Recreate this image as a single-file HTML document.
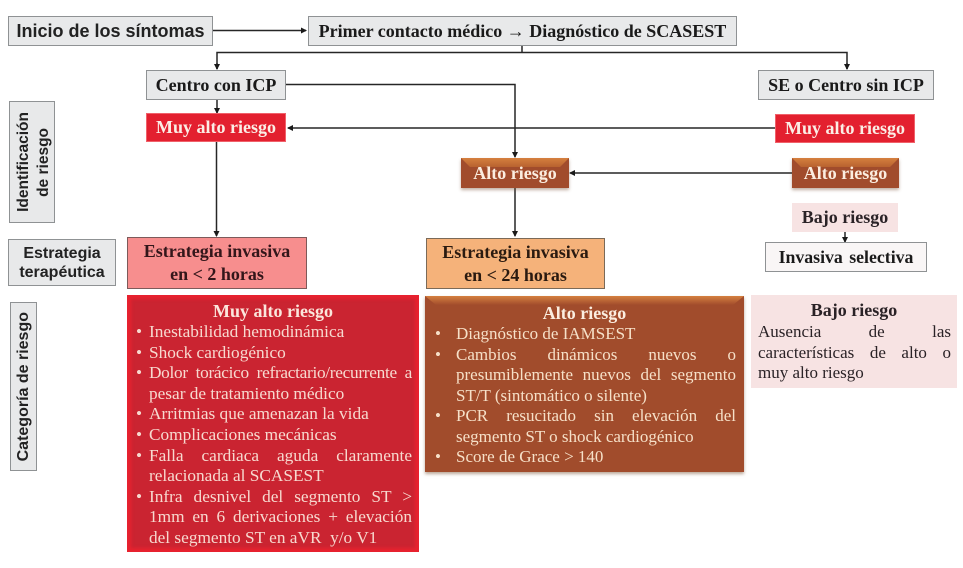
<!DOCTYPE html>
<html lang="es"><head><meta charset="utf-8"><title>SCASEST</title>
<style>
html,body{margin:0;padding:0;background:#fff}
#p{position:relative;width:963px;height:568px;overflow:hidden;background:#fff;filter:blur(.35px);font-family:"Liberation Serif",serif}
.b{position:absolute;box-sizing:border-box;display:flex;align-items:center;justify-content:center;text-align:center;font-weight:bold;white-space:nowrap}
.g{background:#e8e9ea;border:1.5px solid #8f9294;color:#1a1a1a}
.s{font-family:"Liberation Sans",sans-serif;color:#222}
.r{background:#e3202f;border:1px solid #f0616a;color:#fbeee6;font-size:18px}
.a{background:#a14c2c;color:#fbeee0;font-size:18px;box-shadow:0 2px 3px rgba(120,80,50,.45)}
.a:before{content:"";position:absolute;left:0;top:0;right:0;height:9px;background:linear-gradient(#d5803f,#b8622f);clip-path:polygon(0 0,100% 0,calc(100% - 9px) 100%,9px 100%)}
.a span{position:relative}
.l{position:absolute;font-size:17px;line-height:20px;white-space:nowrap}
.w{font-size:17.3px}
.j{text-align:justify;text-align-last:justify;white-space:normal}
.v{position:absolute;display:flex;align-items:center;justify-content:center;box-sizing:border-box;text-align:center;font-family:"Liberation Sans",sans-serif;font-weight:bold;color:#222;background:#e8e9ea;border:1.5px solid #8f9294;white-space:nowrap}
.v span{display:block;writing-mode:vertical-rl;transform:rotate(180deg)}
svg{position:absolute;left:0;top:0}
.w{color:#f7d9cf}.o{color:#f6e0c8}.k{color:#2a2226}
</style></head><body><div id="p">

<svg width="963" height="568">
<defs><marker id="m" markerWidth="6" markerHeight="6" refX="5" refY="3" orient="auto" markerUnits="userSpaceOnUse"><path d="M0 0L6 3L0 6Z" fill="#1a1a1a"/></marker></defs>
<g fill="none" stroke="#262626" stroke-width="1.5">
<path d="M213 30.5H306" marker-end="url(#m)"/>
<path d="M522 46V52.5" />
<path d="M217 69V52.5H847V69" />
<path d="M217 63V69" marker-end="url(#m)"/>
<path d="M847 63V69" marker-end="url(#m)"/>
<path d="M286 84.5H515V157" marker-end="url(#m)"/>
<path d="M217 100V113" marker-end="url(#m)"/>
<path d="M775 128H288" marker-end="url(#m)"/>
<path d="M792 173H570" marker-end="url(#m)"/>
<path d="M515 188V236" marker-end="url(#m)"/>
<path d="M216.5 142V236" marker-end="url(#m)"/>
<path d="M845 232V242" marker-end="url(#m)"/>
</g></svg>

<div class="b g s" style="left:8px;top:16px;width:205px;height:30px;font-size:18px">Inicio de los síntomas</div>
<div class="b g" style="left:308px;top:16px;width:429px;height:30px;font-size:18px">Primer contacto médico → Diagnóstico de SCASEST</div>
<div class="b g" style="left:146px;top:70px;width:140px;height:30px;font-size:18px">Centro con ICP</div>
<div class="b g" style="left:758px;top:70px;width:176px;height:30px;font-size:18px">SE o Centro sin ICP</div>

<div class="b r" style="left:146px;top:113px;width:140px;height:29px">Muy alto riesgo</div>
<div class="b r" style="left:775px;top:114px;width:140px;height:29px">Muy alto riesgo</div>
<div class="b a" style="left:461px;top:158px;width:108px;height:30px"><span>Alto riesgo</span></div>
<div class="b a" style="left:792px;top:158px;width:107px;height:30px"><span>Alto riesgo</span></div>
<div class="b" style="left:792px;top:203px;width:106px;height:29px;background:#f7e3e3;color:#2a2226;font-size:18px">Bajo riesgo</div>
<div class="b" style="left:765px;top:242px;width:162px;height:30px;background:#f9f6f6;border:1.5px solid #8f9294;color:#1a1a1a;font-size:17.8px;word-spacing:2px">Invasiva selectiva</div>

<div class="v" style="left:9px;top:101px;width:46px;height:122px;font-size:15.5px;line-height:20px;padding-left:3px"><span>Identificación<br>de riesgo</span></div>
<div class="b g s" style="left:8px;top:239px;width:108px;height:47px;font-size:16px;line-height:19px">Estrategia<br>terapéutica</div>
<div class="v" style="left:10px;top:302px;width:27px;height:169px;font-size:16px"><span>Categoría de riesgo</span></div>

<div class="b" style="left:127px;top:237px;width:180px;height:52px;background:#f78e8e;border:1.5px solid #7d5a5a;color:#33161a;font-size:18px;line-height:23px">Estrategia invasiva<br>en &lt; 2 horas</div>
<div class="b" style="left:426px;top:238px;width:179px;height:51px;background:#f5b27a;border:1.5px solid #7b6a58;color:#2a1a10;font-size:18px;line-height:23px">Estrategia invasiva<br>en &lt; 24 horas</div>

<!-- Red panel -->
<div style="position:absolute;left:127px;top:295px;width:292px;height:257px;box-sizing:border-box;background:#ca2431;box-shadow:inset 0 0 3px 4px #e8222f"></div>
<div class="l w" style="left:127px;width:292px;text-align:center;top:301px;font-weight:bold;font-size:18px;color:#fbe6dc">Muy alto riesgo</div>
<div class="l w" style="left:136px;top:321.5px">•</div><div class="l w" style="left:149px;top:321.5px">Inestabilidad hemodinámica</div>
<div class="l w" style="left:136px;top:342.5px">•</div><div class="l w" style="left:149px;top:342.5px">Shock cardiogénico</div>
<div class="l w" style="left:136px;top:362.5px">•</div><div class="l w j" style="left:149px;top:362.5px;width:263px;letter-spacing:-.3px">Dolor torácico refractario/recurrente a</div>
<div class="l w" style="left:149px;top:383.5px">pesar de tratamiento médico</div>
<div class="l w" style="left:136px;top:403.5px">•</div><div class="l w" style="left:149px;top:403.5px">Arritmias que amenazan la vida</div>
<div class="l w" style="left:136px;top:424.5px">•</div><div class="l w" style="left:149px;top:424.5px">Complicaciones mecánicas</div>
<div class="l w" style="left:136px;top:445.5px">•</div><div class="l w j" style="left:149px;top:445.5px;width:263px">Falla cardiaca aguda claramente</div>
<div class="l w" style="left:149px;top:465.5px">relacionada al SCASEST</div>
<div class="l w" style="left:136px;top:486.5px">•</div><div class="l w j" style="left:149px;top:486.5px;width:263px">Infra desnivel del segmento ST &gt;</div>
<div class="l w j" style="left:149px;top:506.5px;width:263px">1mm en 6 derivaciones + elevación</div>
<div class="l w" style="left:149px;top:527.5px">del segmento ST en aVR&nbsp; y/o V1</div>

<!-- Brown panel -->
<div style="position:absolute;left:425px;top:296px;width:319px;height:176px;background:#a14c2c;box-shadow:0 2px 3px rgba(120,80,50,.5)"></div>
<div style="position:absolute;left:425px;top:296px;width:319px;height:9px;background:linear-gradient(#d5803f,#a14c2c);clip-path:polygon(0 0,100% 0,calc(100% - 11px) 100%,11px 100%)"></div>
<div class="l o" style="left:425px;width:319px;text-align:center;top:303px;font-weight:bold;font-size:18px;color:#fbeee0">Alto riesgo</div>
<div class="l o" style="left:435px;top:324px">•</div><div class="l o" style="left:456px;top:324px">Diagnóstico de IAMSEST</div>
<div class="l o" style="left:435px;top:345px">•</div><div class="l o j" style="left:456px;top:345px;width:280px">Cambios dinámicos nuevos o</div>
<div class="l o j" style="left:456px;top:365px;width:280px">presumiblemente nuevos del segmento</div>
<div class="l o" style="left:456px;top:386px">ST/T (sintomático o silente)</div>
<div class="l o" style="left:435px;top:406px">•</div><div class="l o j" style="left:456px;top:406px;width:280px">PCR resucitado sin elevación del</div>
<div class="l o" style="left:456px;top:427px">segmento ST o shock cardiogénico</div>
<div class="l o" style="left:435px;top:447px">•</div><div class="l o" style="left:456px;top:447px">Score de Grace &gt; 140</div>

<!-- Pink panel -->
<div style="position:absolute;left:751px;top:295px;width:206px;height:93px;background:#f7e3e3"></div>
<div class="l k" style="left:751px;width:206px;text-align:center;top:300px;font-weight:bold;font-size:18px">Bajo riesgo</div>
<div class="l k j" style="left:758px;top:322px;width:193px">Ausencia de las</div>
<div class="l k j" style="left:758px;top:343px;width:193px">características de alto o</div>
<div class="l k" style="left:758px;top:363px">muy alto riesgo</div>

</div></body></html>
